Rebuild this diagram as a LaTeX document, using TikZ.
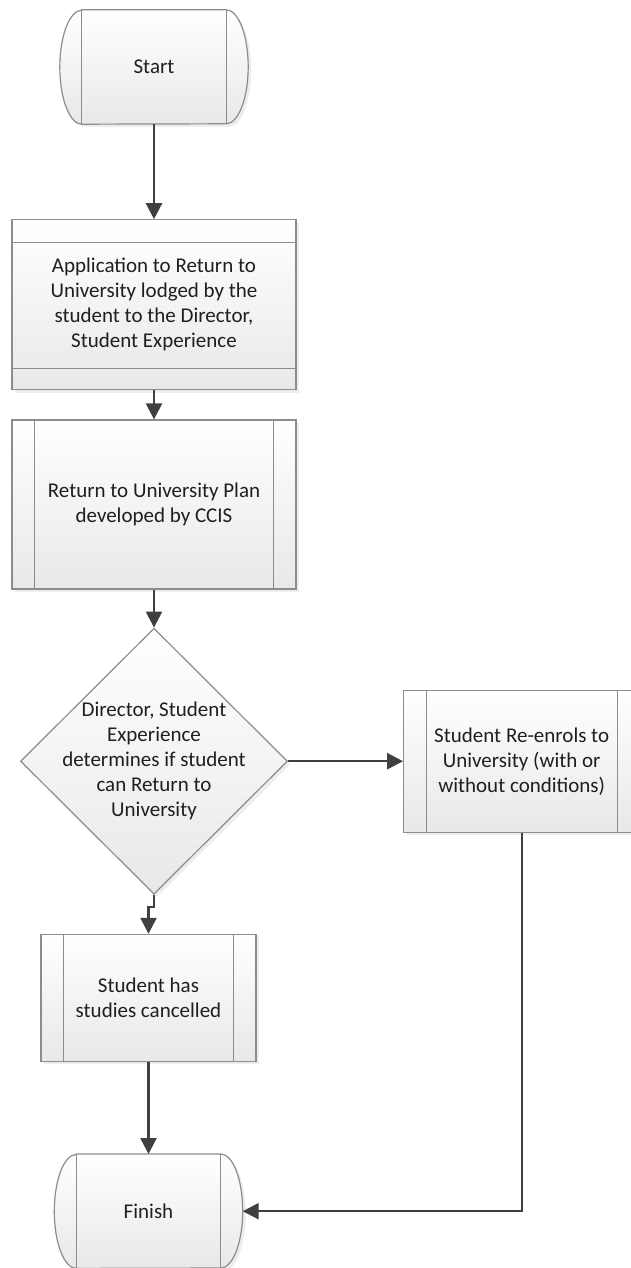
\documentclass[tikz,border=0pt]{standalone}
\usepackage{fontspec}
\setmainfont{Carlito}
\usetikzlibrary{positioning,shapes.geometric,arrows.meta,shadows,backgrounds}

\begin{document}
\begin{tikzpicture}[
    x=1pt, y=1pt,
    font=\fontsize{21}{25}\selectfont,
    border/.style={draw=black!45, line width=1.2pt},
    shapefill/.style={border, top color=white, bottom color=black!9},
    shadowed/.style={drop shadow={shadow xshift=3pt, shadow yshift=-3pt, opacity=0.14}},
    process/.style={rectangle, shapefill, shadowed, minimum width=284pt, align=center, text=black!88},
    terminal/.style={rectangle, minimum width=188pt, minimum height=114pt, align=center, text=black!88},
    decision/.style={diamond, shapefill, shadowed, minimum width=267pt, minimum height=266pt, inner sep=0pt},
    flow/.style={draw=black!75, line width=2.4pt, -{Triangle[width=16pt,length=16pt]}},
]
\useasboundingbox (0,0) rectangle (630,-1268);

% Main column
\node[terminal] (start) at (154,-67) {Start};
\node[process, minimum height=170pt, below=95pt of start] (apply) {Application to Return to\\University lodged by the\\student to the Director,\\Student Experience};
\node[process, minimum height=169pt, below=29pt of apply] (plan) {Return to University Plan\\developed by CCIS};
\node[decision, below=38pt of plan] (decide) {};
\node[align=center, text=black!88] at (decide) {Director, Student\\Experience\\determines if student\\can Return to\\University};

% Outcomes
\node[process, minimum width=236pt, minimum height=142pt, right=115pt of decide] (reenrol) {Student Re-enrols to\\University (with or\\without conditions)};
\node[process, minimum width=215pt, minimum height=127pt, below=39pt of decide, xshift=-5.5pt] (cancel) {Student has\\studies cancelled};
\node[terminal, below=92pt of cancel] (finish) {Finish};

% Terminal outlines
\begin{pgfonlayer}{background}
\foreach \t in {start,finish}
  \draw[shapefill, shadowed] ([xshift=22pt]\t.north west) -- ([xshift=-22pt]\t.north east)
    arc[start angle=90, end angle=-90, x radius=22pt, y radius=57pt]
    -- ([xshift=22pt]\t.south west)
    arc[start angle=270, end angle=90, x radius=22pt, y radius=57pt] -- cycle;
\end{pgfonlayer}
\foreach \t in {start,finish}
  \draw[border] ([xshift=22pt]\t.north west) -- ([xshift=22pt]\t.south west)
    ([xshift=-22pt]\t.north east) -- ([xshift=-22pt]\t.south east);

% Inner bars
\foreach \b in {plan,reenrol,cancel}
  \draw[border] ([xshift=23pt]\b.north west) -- ([xshift=23pt]\b.south west)
    ([xshift=-23pt]\b.north east) -- ([xshift=-23pt]\b.south east);
\draw[border] ([yshift=-23pt]apply.north west) -- ([yshift=-23pt]apply.north east)
  ([yshift=22pt]apply.south west) -- ([yshift=22pt]apply.south east);

% Arrows
\draw[flow] (start) -- (apply);
\draw[flow] (apply) -- (plan);
\draw[flow] (plan) -- (decide);
\draw[flow] (decide) -- (reenrol);
\draw[flow] (decide.south) -- ++(0,-12) -| (cancel.north);
\draw[flow] (cancel) -- (finish);
\draw[flow] (reenrol.south) |- (finish.east);

\end{tikzpicture}
\end{document}
